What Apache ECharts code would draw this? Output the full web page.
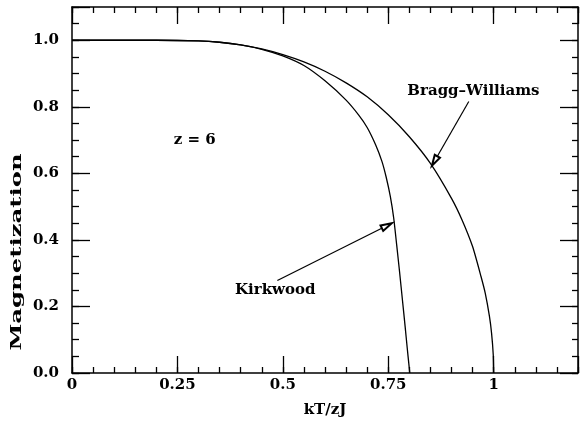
<!DOCTYPE html>
<html><head><meta charset="utf-8">
<script src="https://cdn.jsdelivr.net/npm/echarts@6/dist/echarts.min.js"></script>
<style>html,body{margin:0;padding:0;background:#fff}#c{width:581px;height:423px}</style>
</head><body><div id="c"></div>
<script>
// Bragg–Williams curve (kT/zJ, magnetization)
const braggWilliamsT = [0, 0.1, 0.2, 0.3, 0.35, 0.4, 0.45, 0.5, 0.55, 0.6, 0.65, 0.7, 0.75, 0.8, 0.85, 0.9, 0.925, 0.95, 0.97, 0.98, 0.99, 0.995, 0.999, 1.0];
const braggWilliamsM = [1.0, 1.0, 1.0, 0.998, 0.994, 0.986, 0.974, 0.957, 0.935, 0.907, 0.872, 0.83, 0.776, 0.71, 0.63, 0.525, 0.46, 0.38, 0.29, 0.24, 0.17, 0.12, 0.055, 0.0];
// Kirkwood curve
const kirkwoodT = [0, 0.1, 0.2, 0.3, 0.35, 0.4, 0.45, 0.5, 0.55, 0.6, 0.65, 0.68, 0.7, 0.72, 0.735, 0.745, 0.755, 0.763, 0.77, 0.777, 0.784, 0.79, 0.795, 0.799, 0.801];
const kirkwoodM = [1.0, 1.0, 1.0, 0.998, 0.994, 0.986, 0.973, 0.953, 0.924, 0.878, 0.82, 0.775, 0.738, 0.686, 0.636, 0.589, 0.53, 0.465, 0.385, 0.302, 0.215, 0.14, 0.075, 0.025, 0.0];
// tick labels
const xTickLabels = ['0', '0.25', '0.5', '0.75', '1'];
const yTickLabels = ['0.0', '0.2', '0.4', '0.6', '0.8', '1.0'];
// annotations: [x, y, text]
const annotations = [[0.291, 0.70, 'z = 6'], [0.952, 0.846, 'Bragg\u2013Williams'], [0.482, 0.250, 'Kirkwood']];
// arrows: [tailX, tailY, headX, headY]
const arrows = [[0.941, 0.816, 0.860, 0.637], [0.487, 0.278, 0.7465, 0.4425]];

const FONT = '"DejaVu Serif", serif';
const chart = echarts.init(document.getElementById('c'), null, {renderer: 'canvas'});

function pairs(a, b) { return a.map((v, i) => [v, b[i]]); }

function xAxisDef(pos, interval, len, showLine, showLabel) {
  return {
    type: 'value', position: pos, min: 0, max: 1.2, interval: interval,
    axisLine: {show: showLine, onZero: false, lineStyle: {color: '#000', width: 1.5}},
    axisTick: {show: true, inside: true, length: len, lineStyle: {color: '#000', width: 1.3}},
    axisLabel: showLabel ? {
      show: true, margin: 5, color: '#000', fontFamily: FONT, fontWeight: 'bold', fontSize: 15,
      formatter: v => { const i = Math.round(v / 0.25); return (Math.abs(v - i * 0.25) < 1e-9 && i < xTickLabels.length) ? xTickLabels[i] : ''; }
    } : {show: false},
    splitLine: {show: false}
  };
}
function yAxisDef(pos, interval, len, showLine, showLabel) {
  return {
    type: 'value', position: pos, min: 0, max: 1.1, interval: interval,
    axisLine: {show: showLine, onZero: false, lineStyle: {color: '#000', width: 1.5}},
    axisTick: {show: true, inside: true, length: len, lineStyle: {color: '#000', width: 1.3}},
    axisLabel: showLabel ? {
      show: true, margin: 13, color: '#000', fontFamily: FONT, fontWeight: 'bold', fontSize: 15,
      formatter: v => { const i = Math.round(v / 0.2); return (Math.abs(v - i * 0.2) < 1e-9 && i < yTickLabels.length) ? yTickLabels[i] : ''; }
    } : {show: false},
    splitLine: {show: false}
  };
}

const xAxes = [
  xAxisDef('bottom', 0.25, 17, true, true),
  xAxisDef('bottom', 0.05, 6, false, false),
  xAxisDef('top', 0.25, 17, true, false),
  xAxisDef('top', 0.05, 6, false, false)
];
xAxes[0].name = 'kT/zJ';
xAxes[0].nameLocation = 'middle';
xAxes[0].nameGap = 30;
xAxes[0].nameTextStyle = {color: '#000', fontFamily: FONT, fontWeight: 'bold', fontSize: 15};

const yAxes = [
  yAxisDef('left', 0.2, 18, true, true),
  yAxisDef('left', 0.05, 7, false, false),
  yAxisDef('right', 0.2, 18, true, false),
  yAxisDef('right', 0.05, 6, false, false)
];

const lineStyle = {color: '#000', width: 1.3};

chart.setOption({
  animation: false,
  backgroundColor: '#fff',
  grid: {left: 72, right: 3, top: 7, bottom: 47, containLabel: false},
  xAxis: xAxes,
  yAxis: yAxes,
  graphic: [{
    type: 'text', x: 17, y: 252, rotation: Math.PI / 2, scaleX: 1.62, scaleY: 1,
    style: {text: 'Magnetization', font: 'bold 15px ' + FONT, fill: '#000', align: 'center', verticalAlign: 'middle'}
  }],
  series: [
    {name: 'Bragg\u2013Williams', type: 'line', xAxisIndex: 0, yAxisIndex: 0, data: pairs(braggWilliamsT, braggWilliamsM),
     showSymbol: false, smooth: 0.2, lineStyle: lineStyle, silent: true},
    {name: 'Kirkwood', type: 'line', xAxisIndex: 0, yAxisIndex: 0, data: pairs(kirkwoodT, kirkwoodM),
     showSymbol: false, smooth: 0.2, lineStyle: lineStyle, silent: true},
    {name: 'annotations', type: 'scatter', xAxisIndex: 0, yAxisIndex: 0, silent: true,
     data: annotations, symbolSize: 1, itemStyle: {color: 'rgba(0,0,0,0)', opacity: 1},
     label: {show: true, position: 'inside', color: '#000', opacity: 1, fontFamily: FONT, fontWeight: 'bold', fontSize: 15,
             formatter: p => p.data[2]},
     markLine: {
       silent: true, symbol: ['none', 'emptyTriangle'], symbolSize: [6, 11],
       label: {show: false}, lineStyle: {color: '#000', width: 1.2, type: 'solid'},
       data: arrows.map(a => [{coord: [a[0], a[1]]}, {coord: [a[2], a[3]]}])
     }}
  ]
});
</script></body></html>
